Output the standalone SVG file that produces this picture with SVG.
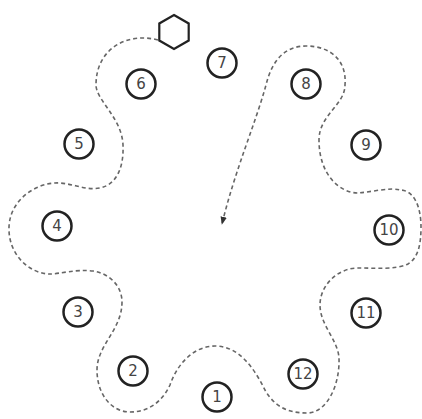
<svg xmlns="http://www.w3.org/2000/svg" width="422" height="419" viewBox="0 0 422 419">
<defs>
<style>
.n circle{fill:none;stroke:#222;stroke-width:2.5}
.n text{font-family:"DejaVu Sans",sans-serif;font-size:15px;fill:#444;text-anchor:middle;dominant-baseline:central}
.c{fill:none;stroke:#666;stroke-width:1.6;stroke-dasharray:4 3}
</style>
<marker id="ah" viewBox="0 0 10 10" refX="9" refY="5" markerWidth="8" markerHeight="8" orient="auto" markerUnits="userSpaceOnUse">
<path d="M0,1 L10,5 L0,9 z" fill="#333"/>
</marker>
</defs>
<rect width="422" height="419" fill="#fff"/>
<g id="connectors">
<path class="c" marker-end="url(#ah)" d="M158,40 C128,32 96,48 96,85 C96,100 122,118 123,145 C124,170 115,185 100,188 C85,191 70,182 55,183 C35,184 10,200 9,227 C8,255 30,274 50,274 C60,274 75,269 93,271 C108,273 122,285 122,302 C122,330 97,345 97,370 C97,395 112,412 130,412 C150,412 163,400 170,385 C178,362 195,346 215,346 C240,346 255,370 265,390 C275,408 290,413 307,413 C327,413 340,385 339,358 C338,340 320,325 320,305 C320,285 338,268 358,268 C375,268 395,270 408,264 C418,258 421,245 421,227 C421,205 413,190 400,190 C390,187 372,192 358,193 C340,193 319,175 319,140 C319,115 345,105 345,85 C347,60 330,46 306,46 C285,46 272,60 266,85 C255,125 235,170 222,224"/>
</g>
<g id="hexagon">
<polygon points="174,15 188.7,23.5 188.7,40.5 174,49 159.3,40.5 159.3,23.5" fill="#fff" stroke="#222" stroke-width="2.2"/>
</g>
<g id="n1" class="n"><circle cx="217" cy="397" r="14.5"/><text x="217" y="397">1</text></g>
<g id="n2" class="n"><circle cx="133" cy="371" r="14.5"/><text x="133" y="371">2</text></g>
<g id="n3" class="n"><circle cx="78" cy="312" r="14.5"/><text x="78" y="312">3</text></g>
<g id="n4" class="n"><circle cx="57" cy="226" r="14.5"/><text x="57" y="226">4</text></g>
<g id="n5" class="n"><circle cx="79" cy="144" r="14.5"/><text x="79" y="144">5</text></g>
<g id="n6" class="n"><circle cx="141" cy="84" r="14.5"/><text x="141" y="84">6</text></g>
<g id="n7" class="n"><circle cx="222" cy="63" r="14.5"/><text x="222" y="63">7</text></g>
<g id="n8" class="n"><circle cx="306" cy="84" r="14.5"/><text x="306" y="84">8</text></g>
<g id="n9" class="n"><circle cx="366" cy="145" r="14.5"/><text x="366" y="145">9</text></g>
<g id="n10" class="n"><circle cx="389" cy="230" r="14.5"/><text x="389" y="230">10</text></g>
<g id="n11" class="n"><circle cx="366" cy="313" r="14.5"/><text x="366" y="313">11</text></g>
<g id="n12" class="n"><circle cx="303" cy="374" r="14.5"/><text x="303" y="374">12</text></g>
</svg>
